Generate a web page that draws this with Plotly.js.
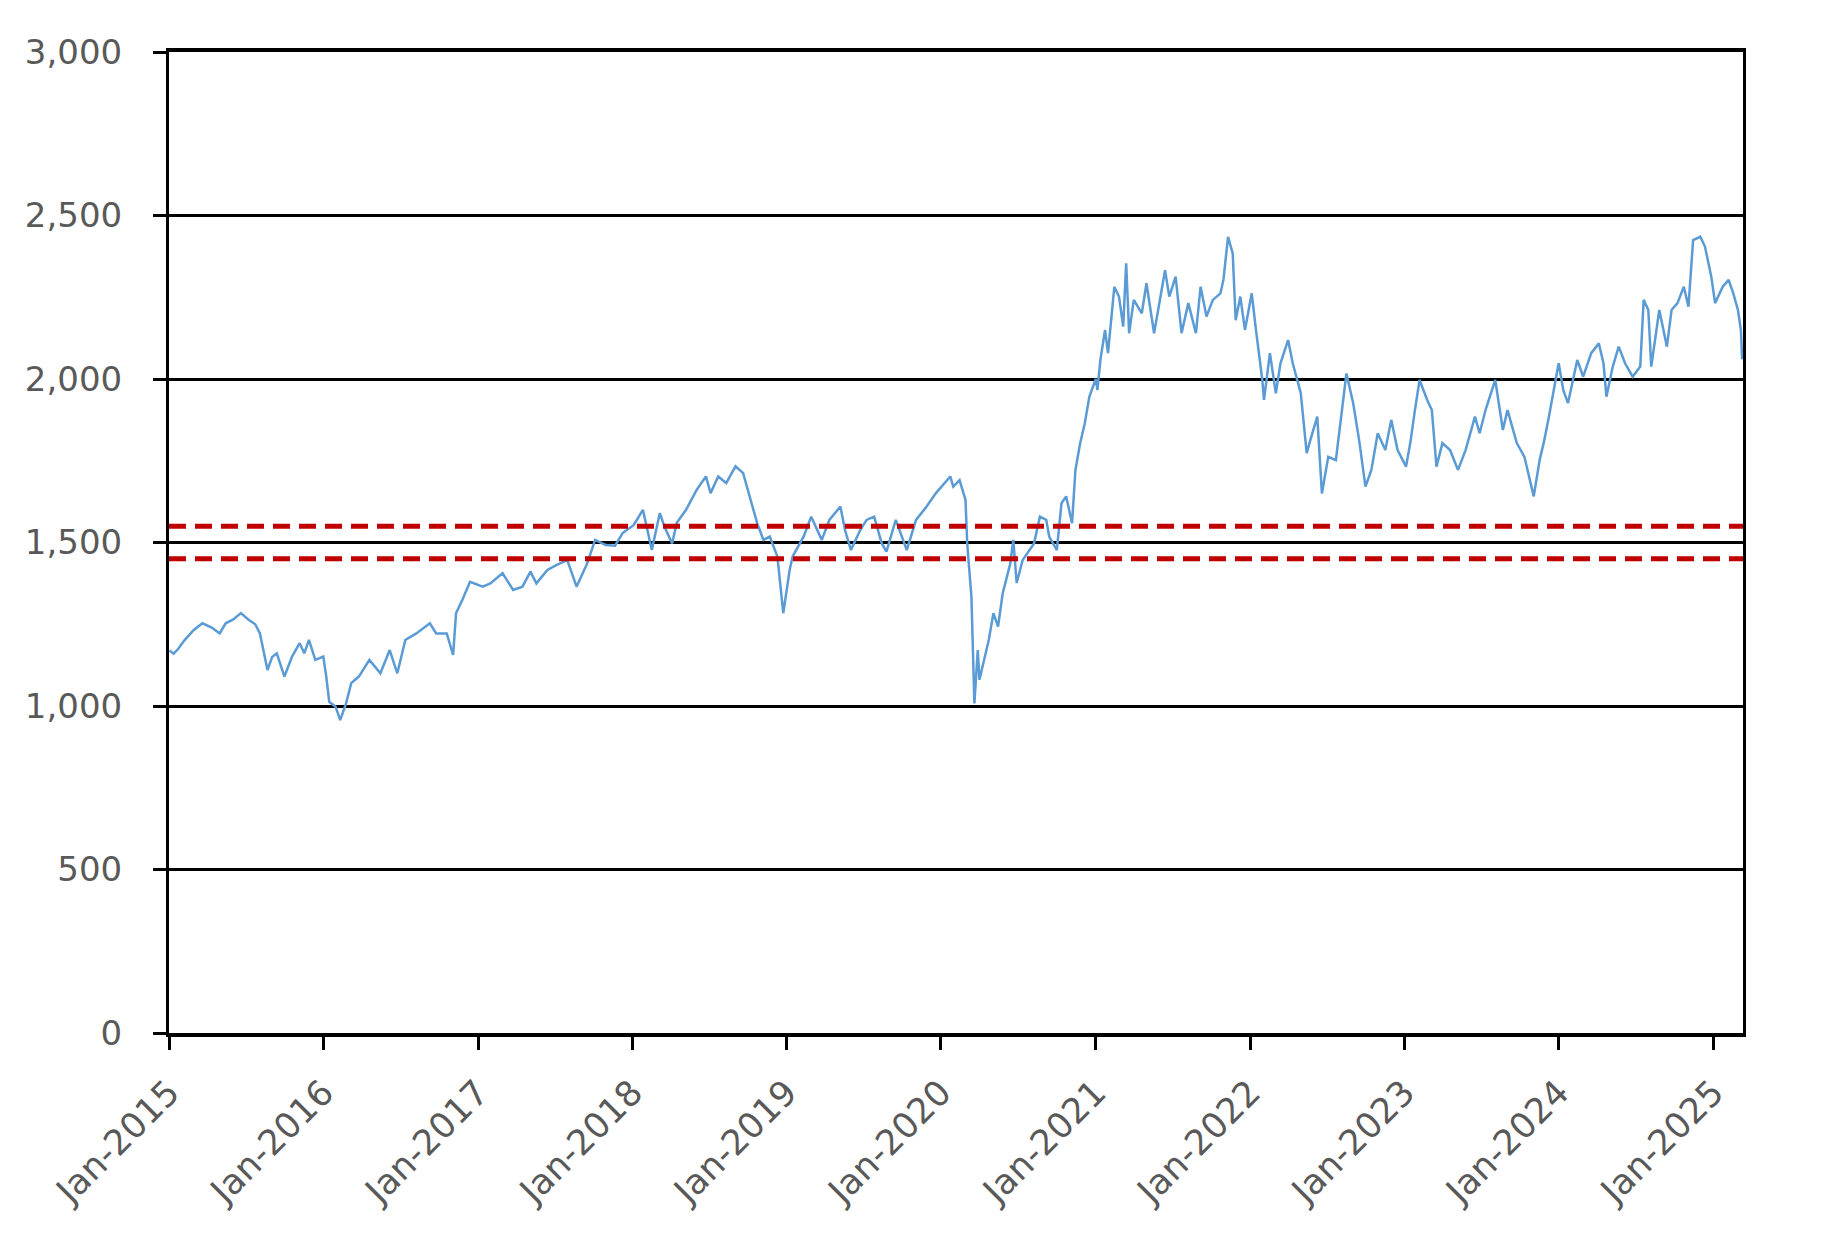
<!DOCTYPE html>
<html>
<head>
<meta charset="utf-8">
<script src="https://cdn.plot.ly/plotly-3.0.1.min.js"></script>
<style>html,body{margin:0;padding:0;background:#fff;}#chart{width:1830px;height:1235px;}</style>
</head>
<body>
<div id="chart"></div>
<script>
const dates = [
'2015-01-02','2015-01-12','2015-01-23','2015-02-06','2015-02-28','2015-03-21','2015-04-12','2015-05-01','2015-05-15','2015-06-02',
'2015-06-20','2015-07-09','2015-07-24','2015-08-04','2015-08-22','2015-09-02','2015-09-13','2015-10-01','2015-10-19','2015-11-06',
'2015-11-17','2015-11-28','2015-12-13','2016-01-01','2016-01-08','2016-01-15','2016-01-30','2016-02-10','2016-02-24','2016-03-07',
'2016-03-25','2016-04-19','2016-05-15','2016-06-06','2016-06-24','2016-07-13','2016-08-08','2016-09-09','2016-09-24','2016-10-19',
'2016-11-03','2016-11-10','2016-11-25','2016-12-13','2017-01-12','2017-01-30','2017-02-28','2017-03-25','2017-04-16','2017-05-05',
'2017-05-19','2017-06-14','2017-07-05','2017-07-31','2017-08-22','2017-09-16','2017-10-05','2017-10-30','2017-11-21','2017-12-09',
'2018-01-04','2018-01-26','2018-02-16','2018-03-07','2018-03-18','2018-04-05','2018-04-16','2018-05-08','2018-06-02','2018-06-24',
'2018-07-05','2018-07-23','2018-08-11','2018-09-02','2018-09-20','2018-10-05','2018-10-23','2018-11-07','2018-11-22','2018-12-10',
'2018-12-24','2019-01-08','2019-01-15','2019-02-10','2019-02-28','2019-03-25','2019-04-12','2019-05-08','2019-05-19','2019-06-02',
'2019-06-24','2019-07-09','2019-07-27','2019-08-14','2019-08-25','2019-09-16','2019-10-12','2019-11-03','2019-11-28','2019-12-20',
'2020-01-23','2020-01-30','2020-02-14','2020-02-28','2020-03-03','2020-03-13','2020-03-20','2020-03-28','2020-04-01','2020-04-23',
'2020-05-04','2020-05-15','2020-05-26','2020-06-13','2020-06-20','2020-06-28','2020-07-12','2020-08-08','2020-08-22','2020-09-06',
'2020-09-13','2020-10-01','2020-10-12','2020-10-23','2020-11-06','2020-11-14','2020-11-25','2020-12-06','2020-12-17','2021-01-01',
'2021-01-05','2021-01-12','2021-01-23','2021-01-30','2021-02-14','2021-02-25','2021-03-07','2021-03-14','2021-03-21','2021-04-01',
'2021-04-20','2021-05-01','2021-05-19','2021-05-30','2021-06-14','2021-06-24','2021-07-09','2021-07-23','2021-08-08','2021-08-26',
'2021-09-06','2021-09-20','2021-10-05','2021-10-23','2021-10-30','2021-11-10','2021-11-21','2021-11-28','2021-12-09','2021-12-20',
'2022-01-05','2022-01-15','2022-01-30','2022-02-03','2022-02-17','2022-03-03','2022-03-14','2022-04-01','2022-04-12','2022-05-01',
'2022-05-15','2022-05-26','2022-06-09','2022-06-20','2022-07-05','2022-07-23','2022-08-17','2022-09-02','2022-09-16','2022-10-01',
'2022-10-15','2022-10-30','2022-11-17','2022-12-01','2022-12-16','2023-01-05','2023-01-15','2023-01-26','2023-02-06','2023-02-24',
'2023-03-07','2023-03-18','2023-04-01','2023-04-19','2023-05-08','2023-05-26','2023-06-17','2023-06-28','2023-07-12','2023-08-04',
'2023-08-22','2023-09-02','2023-09-24','2023-10-12','2023-11-03','2023-11-17','2023-11-28','2023-12-09','2023-12-24','2024-01-01',
'2024-01-12','2024-01-23','2024-02-14','2024-02-28','2024-03-18','2024-04-05','2024-04-16','2024-04-23','2024-05-08','2024-05-22',
'2024-06-06','2024-06-24','2024-07-12','2024-07-20','2024-07-31','2024-08-07','2024-08-26','2024-09-02','2024-09-13','2024-09-24',
'2024-10-08','2024-10-23','2024-11-03','2024-11-14','2024-12-01','2024-12-12','2024-12-27','2025-01-05','2025-01-23','2025-02-06',
'2025-02-17','2025-02-28','2025-03-07','2025-03-10'
];
const values = [
1170,1160,1175,1200,1232,1253,1240,1222,1253,1265,
1284,1263,1250,1222,1110,1150,1161,1090,1151,1192,
1161,1202,1141,1151,1090,1013,998,957,1009,1070,
1090,1141,1100,1171,1100,1202,1222,1253,1222,1222,
1156,1284,1325,1380,1365,1375,1406,1355,1365,1411,
1375,1416,1431,1446,1365,1436,1508,1492,1490,1529,
1553,1600,1477,1590,1548,1497,1560,1600,1661,1702,
1651,1702,1682,1733,1712,1641,1560,1508,1518,1457,
1284,1416,1457,1518,1579,1508,1569,1610,1538,1477,
1538,1569,1579,1497,1472,1569,1477,1569,1610,1651,
1702,1671,1691,1630,1497,1334,1008,1171,1080,1202,
1284,1243,1345,1436,1508,1376,1446,1497,1579,1569,
1518,1477,1620,1641,1559,1722,1803,1864,1946,2000,
1966,2058,2150,2079,2282,2252,2160,2354,2140,2242,
2201,2293,2140,2221,2333,2252,2313,2140,2232,2140,
2282,2191,2242,2262,2303,2435,2384,2180,2252,2150,
2262,2150,1997,1936,2079,1956,2048,2119,2048,1957,
1773,1824,1885,1650,1762,1752,2017,1926,1813,1671,
1722,1834,1783,1875,1783,1732,1804,1905,1997,1936,
1905,1732,1804,1783,1722,1783,1885,1834,1905,1997,
1844,1905,1804,1762,1641,1752,1813,1885,1987,2048,
1966,1926,2058,2007,2079,2109,2048,1946,2038,2099,
2048,2007,2038,2242,2211,2038,2211,2170,2099,2211,
2232,2282,2221,2425,2435,2405,2313,2232,2282,2303,
2262,2211,2150,2060
];
const bandLevels = [1550, 1450];
const xTickVals = ['2015-01-01','2016-01-01','2017-01-01','2018-01-01','2019-01-01','2020-01-01','2021-01-01','2022-01-01','2023-01-01','2024-01-01','2025-01-01'];
const xTickText = ['Jan-2015','Jan-2016','Jan-2017','Jan-2018','Jan-2019','Jan-2020','Jan-2021','Jan-2022','Jan-2023','Jan-2024','Jan-2025'];
const yTickVals = [0, 500, 1000, 1500, 2000, 2500, 3000];

const traces = [{
  type: 'scatter', mode: 'lines', x: dates, y: values,
  line: {color: '#5B9BD5', width: 2.5}, hoverinfo: 'skip', showlegend: false
}];

const shapes = bandLevels.map(v => ({
  type: 'line', xref: 'paper', x0: 0, x1: 1, yref: 'y', y0: v, y1: v,
  line: {color: '#C00000', width: 5, dash: '17px,9px'}, layer: 'above'
}));

const layout = {
  width: 1830, height: 1235,
  margin: {l: 169, r: 87, t: 52, b: 202},
  paper_bgcolor: '#ffffff', plot_bgcolor: '#ffffff',
  showlegend: false,
  font: {family: 'DejaVu Sans, Verdana, sans-serif', color: '#595959'},
  xaxis: {
    type: 'date', range: ['2015-01-01', '2025-03-12'],
    tickmode: 'array', tickvals: xTickVals, ticktext: xTickText,
    tickangle: -45, tickfont: {size: 35, color: '#595959'},
    ticks: 'outside', ticklen: 13, tickwidth: 3, tickcolor: '#000',
    showgrid: false, zeroline: false,
    showline: true, linecolor: '#000', linewidth: 4, mirror: true,
    ticklabelstandoff: 8
  },
  yaxis: {
    range: [0, 3000], tickmode: 'array', tickvals: yTickVals,
    tickformat: ',d', tickfont: {size: 34, color: '#595959'},
    ticks: 'outside', ticklen: 13, tickwidth: 3, tickcolor: '#000',
    showgrid: true, gridcolor: '#000', gridwidth: 3,
    zeroline: false,
    showline: true, linecolor: '#000', linewidth: 3, mirror: true,
    ticklabelstandoff: 24
  },
  shapes: shapes
};

Plotly.newPlot('chart', traces, layout, {staticPlot: true, displayModeBar: false});
</script>
</body>
</html>
